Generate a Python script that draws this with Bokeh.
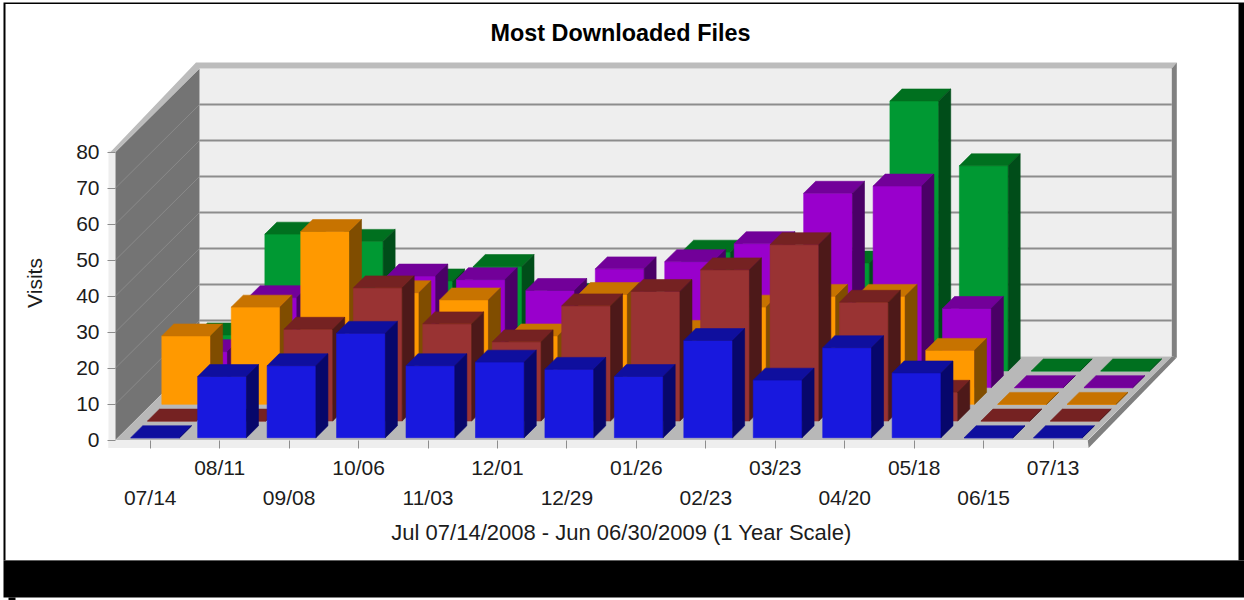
from bokeh.plotting import figure
from bokeh.models import LinearAxis, FixedTicker, Range1d, Label
from bokeh.embed import file_html
from bokeh.resources import INLINE

# ---- data ----
periods = ["07/14", "08/11", "09/08", "10/06", "11/03", "12/01", "12/29",
           "01/26", "02/23", "03/23", "04/20", "05/18", "06/15", "07/13"]
blue = [0, 17, 20, 29, 20, 21, 19, 17, 27, 16, 25, 18, 0, 0]
red = [0, 0, 25.5, 37, 27, 22, 32, 36, 42, 49, 33, 8, 0, 0]
orange = [19, 27, 48, 31, 29, 19, 30.5, 20, 27, 30, 30, 15, 0, 0]
purple = [10, 25, 20, 31, 30, 27, 33, 35, 40, 54, 56, 22, 0, 0]
green = [10, 38, 36, 25, 29, 21, 15, 33, 20, 30, 75, 57, 0, 0]
y_ticks = [0, 10, 20, 30, 40, 50, 60, 70, 80]

title_text = "Most Downloaded Files"
x_title = "Jul 07/14/2008 - Jun 06/30/2009 (1 Year Scale)"
y_title = "Visits"

# (front, top, side) shades, back series first
series = [
    (green, "#009933", "#00701f", "#004d19"),
    (purple, "#9900cc", "#720099", "#4a0066"),
    (orange, "#ff9900", "#c77300", "#804d00"),
    (red, "#993333", "#752222", "#4d1919"),
    (blue, "#1818de", "#0f0f9e", "#07076b"),
]

# ---- layout of the page and the oblique projection ----
W, H = 1244, 600
X0, Y0 = 115.0, 439.5     # pixel of category 0 / value 0 at the front of the floor
CAT = 69.45               # px per category
UNIT = 3.6                # px per visit
DX, DY = 84.0, 83.5       # px of the whole depth
N = len(periods)
TOP = 80


def px(x):
    return (x - X0) / CAT


def py(y):
    return (Y0 - y) / UNIT


def proj(cat, val, depth):
    """category units, visits, depth 0..1 -> data coords on the projected plane"""
    return cat + depth * DX / CAT, val + depth * DY / UNIT


def poly(points):
    pts = [proj(*q) for q in points]
    return [a for a, _ in pts], [b for _, b in pts]


p = figure(width=W, height=H, x_range=Range1d(px(0), px(W)), y_range=Range1d(py(H), py(0)),
           output_backend="svg", toolbar_location=None, min_border=0,
           background_fill_color="white", border_fill_color="white",
           outline_line_color=None, margin=0)
p.xaxis.visible = False
p.yaxis.visible = False
p.xgrid.visible = False
p.ygrid.visible = False


def quad_px(l, t, r, b, color):
    p.quad(left=px(l), right=px(r), top=py(t), bottom=py(b), fill_color=color, line_color=None)


def patch(points, color):
    xs, ys = poly(points)
    p.patch(xs, ys, fill_color=color, line_color=None)


# page frame
quad_px(3, 2, W, 560, "black")
quad_px(5, 3.5, 1238, 560, "white")
quad_px(3, 560, W, 597, "black")
quad_px(8, 597, 15, H, "black")

# pale front strips
quad_px(108, 150, X0, 447.5, "#eeeeee")
quad_px(108, Y0, X0 + N * CAT + 0.5, 447.5, "#eeeeee")

# back wall, left wall, floor
patch([(0, 0, 1), (N, 0, 1), (N, TOP, 1), (0, TOP, 1)], "#eeeeee")
patch([(0, 0, 0), (0, 0, 1), (0, TOP, 1), (0, TOP, 0)], "#747474")
patch([(0, 0, 0), (N, 0, 0), (N, 0, 1), (0, 0, 1)], "#b8b8b8")

# rim of the walls
S = 5.0 / CAT
patch([(-5 / CAT, TOP, 0), (-3.5 / CAT, TOP + 6 / UNIT, 1), (N + S, TOP + 6 / UNIT, 1), (N, TOP, 1), (0, TOP, 1), (0, TOP, 0)], "#bcbcbc")
patch([(N, TOP, 1), (N + S, TOP + 6 / UNIT, 1), (N + S, -1 / UNIT, 1), (N, 0, 1)], "#808080")
patch([(N, 0, 1), (N + S, -1 / UNIT, 1), (N + 0.8 / CAT, -8 / UNIT, 0), (N, -0.5 / UNIT, 0)], "#808080")

# grid lines
for v in y_ticks[1:-1]:
    a = poly([(0, v, 1), (N, v, 1)])
    p.line(a[0], a[1], line_color="#8c8c8c", line_width=2)
    b = poly([(0, v, 0), (0, v, 1)])
    p.line(b[0], b[1], line_color="#8a8a8a", line_width=1)

# ---- bars: back series first, each series with its own depth slot ----
BAR_W = 48.8 / CAT
BAR_D = 12.0 / DX
SLOT = 16.8 / DX
SHIFT = 0.1 / CAT
FLAT_SHIFT = 2.6 / CAT    # zero-height plates sit slightly right of the raised bars
START = 2.3 / DX

for k, (vals, front, top, side) in enumerate(series):
    depth0 = START + SLOT * (len(series) - 1 - k)
    depth1 = depth0 + BAR_D
    xs, ys, fills = [], [], []
    for i, v in enumerate(vals):
        l = i + 0.5 + (SHIFT if v else FLAT_SHIFT) - BAR_W / 2
        r = l + BAR_W
        faces = [([(l, 0, depth0), (r, 0, depth0), (r, v, depth0), (l, v, depth0)], front),
                 ([(l, v, depth0), (r, v, depth0), (r, v, depth1), (l, v, depth1)], top),
                 ([(r, 0, depth0), (r, 0, depth1), (r, v, depth1), (r, v, depth0)], side)]
        for pts, color in faces:
            a, b = poly(pts)
            xs.append(a)
            ys.append(b)
            fills.append(color)
    p.patches(xs=xs, ys=ys, fill_color=fills, line_color=fills, line_width=0.6)

FONT = "Liberation Sans"
TXT = "#1c1c1c"
SIZE = "21px"

# ---- real axes, pinned on the floor / the front corner ----
yax = LinearAxis(ticker=FixedTicker(ticks=y_ticks), fixed_location=0, axis_line_color=None,
                 major_tick_in=0, major_tick_out=8, minor_tick_line_color=None,
                 major_tick_line_color="#8c8c8c", major_label_standoff=8,
                 major_label_text_font=FONT, major_label_text_font_size=SIZE,
                 major_label_text_color=TXT, bounds=(0, 87.5), axis_label=y_title,
                 axis_label_text_font=FONT, axis_label_text_font_size=SIZE,
                 axis_label_text_font_style="normal", axis_label_text_color=TXT,
                 axis_label_standoff=27)
p.add_layout(yax, "left")

odd = {i + 0.5: periods[i] for i in range(1, N, 2)}
even = {i + 0.5: periods[i] for i in range(0, N, 2)}
xax1 = LinearAxis(ticker=FixedTicker(ticks=[i + 0.5 for i in range(N)]), fixed_location=0,
                  axis_line_color=None, major_tick_in=0, major_tick_out=8,
                  minor_tick_line_color=None, major_tick_line_color="#8c8c8c",
                  major_label_standoff=8, major_label_overrides={**odd, **{k: "" for k in even}},
                  major_label_text_font=FONT, major_label_text_font_size=SIZE,
                  major_label_text_color=TXT)
xax2 = LinearAxis(ticker=FixedTicker(ticks=list(even)), fixed_location=0,
                  axis_line_color=None, major_tick_line_color=None, minor_tick_line_color=None,
                  major_tick_in=0, major_tick_out=8,
                  major_label_standoff=38, major_label_overrides=even,
                  major_label_text_font=FONT, major_label_text_font_size=SIZE,
                  major_label_text_color=TXT, bounds=(0, 14.57), axis_label=x_title,
                  axis_label_text_font=FONT, axis_label_text_font_size="22px",
                  axis_label_text_font_style="normal", axis_label_text_color=TXT,
                  axis_label_standoff=7)
p.add_layout(xax1, "below")
p.add_layout(xax2, "below")

# chart title
p.add_layout(Label(x=px(620), y=py(32), text=title_text, text_font=FONT, text_font_size="23.4px",
                   text_font_style="bold", text_color="black", text_align="center",
                   text_baseline="middle"))

open("out.html", "w").write(file_html(p, INLINE))
